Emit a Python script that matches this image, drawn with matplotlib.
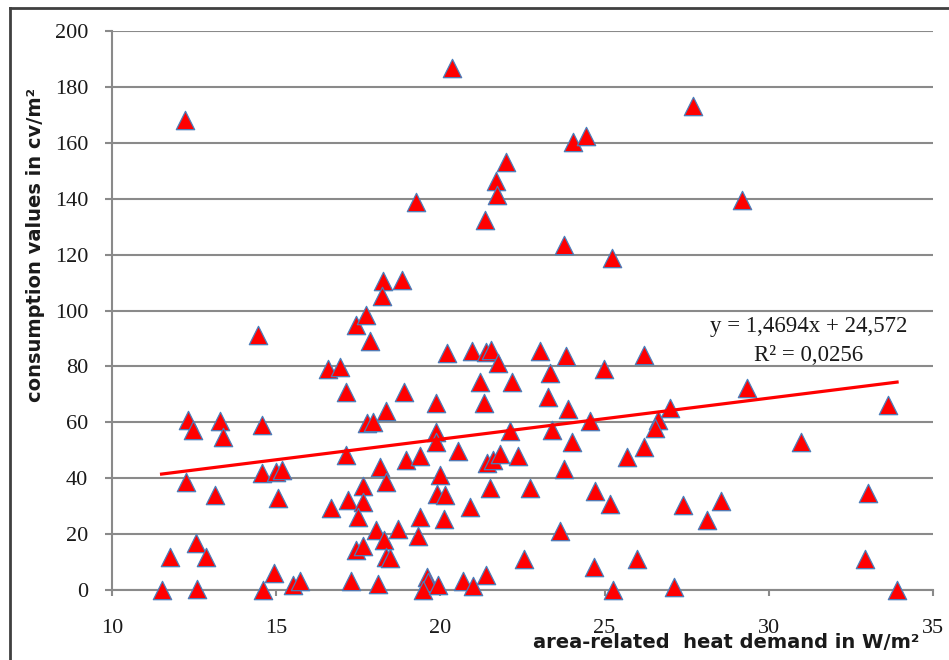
import matplotlib
matplotlib.use("Agg")
import matplotlib.pyplot as plt
from matplotlib.lines import Line2D
import numpy as np

# area-related heat demand [W/m2] and consumption values [cv/m2]
heat_demand = [
    12.22, 14.46, 12.32, 12.46, 13.29, 13.37, 14.58, 12.25, 14.58, 15.01,
    15.17, 15.07, 13.14, 12.56, 11.77, 12.86, 11.51, 12.60, 14.61, 14.93,
    15.52, 15.72,
    16.59, 16.94, 17.13, 17.86, 17.43, 17.73, 18.24, 18.22, 18.82, 18.89,
    18.36, 17.76, 17.94, 17.13, 18.16, 18.34, 17.63, 17.20, 17.65, 16.66,
    17.50, 18.04, 18.72, 18.27, 17.43, 17.63, 18.34, 18.46, 17.27, 18.10,
    18.95,
    19.27, 20.37, 21.36, 21.70, 21.74, 22.01, 20.19, 20.95, 21.39, 21.54,
    21.76, 21.21, 22.18, 19.88, 21.32, 19.87, 19.86, 22.12, 19.38, 20.55,
    21.41, 21.61, 21.83, 22.37, 19.99, 19.91, 20.14, 21.51, 22.72, 20.90,
    19.38, 20.11, 19.33, 22.54, 19.60, 19.63, 19.48, 19.94, 20.68, 20.98,
    21.39,
    24.03, 24.45, 23.77, 25.23, 23.03, 23.84, 24.98, 26.20, 23.34, 23.29,
    23.90, 24.56, 23.39, 24.00, 25.67, 26.20, 23.77, 24.71, 25.16, 23.64,
    24.68, 26.00, 25.27, 26.63, 26.53, 27.00, 27.11,
    27.68, 29.20, 29.35, 33.64, 30.97, 33.03, 27.38, 28.54, 28.11, 32.93,
    33.91,
]
consumption = [
    168.2, 91.4, 60.8, 57.2, 60.6, 54.6, 59.0, 38.7, 41.7, 42.3,
    42.9, 32.8, 34.0, 16.9, 11.7, 11.7, 0.0, 0.3, 0.0, 6.0,
    1.8, 3.3,
    79.2, 79.7, 71.0, 89.2, 95.0, 98.5, 110.5, 105.3, 110.9, 71.0,
    63.9, 59.6, 60.2, 48.3, 43.9, 38.5, 37.4, 32.3, 31.6, 29.4,
    26.1, 21.6, 21.7, 18.0, 14.5, 15.9, 11.9, 11.4, 3.1, 2.3,
    46.6,
    138.9, 186.7, 132.4, 146.5, 141.5, 153.0, 84.7, 85.6, 85.3, 85.9,
    81.3, 74.4, 74.5, 66.9, 66.9, 56.4, 53.1, 56.8, 47.9, 49.8,
    45.3, 46.5, 48.5, 47.8, 41.3, 34.4, 34.1, 36.4, 36.4, 29.8,
    26.3, 25.3, 19.5, 11.0, 4.8, 3.0, 0.0, 1.8, 3.1, 1.6,
    5.4,
    160.2, 162.4, 123.6, 118.7, 85.6, 83.7, 79.0, 84.0, 77.5, 68.9,
    64.7, 60.6, 57.2, 53.1, 47.7, 51.3, 43.2, 35.5, 30.8, 21.2,
    8.1, 11.2, 0.0, 60.8, 57.8, 65.2, 1.1,
    173.2, 139.5, 72.2, 66.2, 53.1, 34.6, 30.4, 31.9, 25.0, 11.0,
    0.0,
]

# linear trend as printed on the chart
slope = 1.4694
intercept = 24.572
eq_text = "y = 1,4694x + 24,572"
r2_text = "R² = 0,0256"

fig = plt.figure(figsize=(9.49, 6.60), dpi=100)
ax = fig.add_axes([0.118, 0.106, 0.865, 0.847])

ax.scatter(heat_demand, consumption, marker="^", s=175, c="#ff0000",
           edgecolors="#4a7ebb", linewidths=0.9, zorder=3, clip_on=False)

xs = np.array([min(heat_demand), max(heat_demand)])
ax.plot(xs, slope * xs + intercept, color="#ff0000", lw=2.3, zorder=4)

ax.set_xlim(10, 35)
ax.set_ylim(0, 200)
ax.set_xticks(np.arange(10, 36, 5))
ax.set_yticks(np.arange(0, 201, 20))
ax.yaxis.grid(True, color="#8a8a8a", lw=1.5)
ax.set_axisbelow(True)

for side in ["top", "right"]:
    ax.spines[side].set_visible(False)
for side in ["left", "bottom"]:
    ax.spines[side].set_color("#8a8a8a")
    ax.spines[side].set_linewidth(1.5)

ax.tick_params(axis="y", direction="out", length=5, width=1.5, color="#8a8a8a",
               pad=12, labelsize=16, labelcolor="#1a1a1a")
ax.tick_params(axis="x", direction="out", length=4, width=1.5, color="#8a8a8a",
               pad=17, labelsize=16, labelcolor="#1a1a1a")
for lab in ax.get_xticklabels() + ax.get_yticklabels():
    lab.set_family("Liberation Serif")

ax.text(0.849, 0.471, eq_text, transform=ax.transAxes, ha="center", va="center",
        fontsize=16.5, family="Liberation Serif", color="#1a1a1a")
ax.text(0.849, 0.420, r2_text, transform=ax.transAxes, ha="center", va="center",
        fontsize=16.5, family="Liberation Serif", color="#1a1a1a")

fig.text(0.765, 0.027, "area-related  heat demand in W/m²", ha="center", va="center",
         fontsize=14, fontweight="bold", color="#1a1a1a")
fig.text(0.037, 0.629, "consumption values in cv/m²", ha="center", va="center",
         rotation=90, fontsize=14, fontweight="bold", color="#1a1a1a")

# outer frame of the chart area (only top and left edges are inside the crop)
fig.add_artist(Line2D([10 / 949, 1.0], [1 - 8 / 660, 1 - 8 / 660],
                      transform=fig.transFigure, color="#404040", lw=2))
fig.add_artist(Line2D([10 / 949, 10 / 949], [0.0, 1 - 8 / 660],
                      transform=fig.transFigure, color="#404040", lw=2))

fig.savefig("out.png", dpi=100)
